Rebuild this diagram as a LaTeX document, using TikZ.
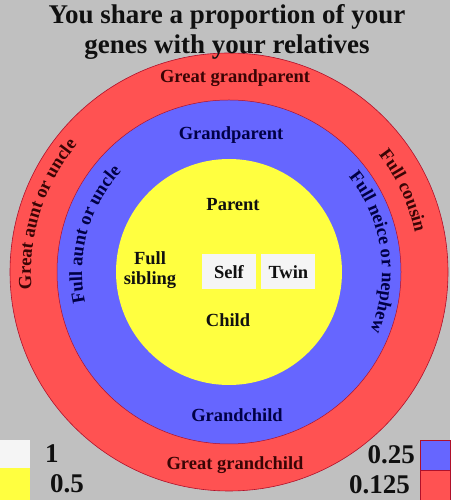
\documentclass[tikz,border=0pt]{standalone}
\usepackage{fontspec}
\setmainfont{Liberation Serif}
\usepackage{tikz}
\usetikzlibrary{positioning,decorations.text}
\definecolor{fond}{HTML}{C0C0C0}
\definecolor{rouge}{HTML}{FF5252}
\definecolor{bleu}{HTML}{6666FF}
\definecolor{jaune}{HTML}{FFFF40}
\definecolor{blanc}{HTML}{F5F5F5}
\definecolor{bord}{HTML}{B0102A}
\definecolor{brun}{HTML}{3A0505}
\definecolor{marine}{HTML}{000045}
\definecolor{noir}{HTML}{101010}
\newcommand\policeanneau{\fontsize{18.5}{20}\selectfont\bfseries}
\tikzset{
  anneau/.style={circle,inner sep=0pt,outer sep=0pt},
  etiq/.style={font=\policeanneau,inner sep=0pt,align=center},
  soibox/.style={etiq,fill=blanc,minimum width=54pt,minimum height=35pt},
  carre/.style={inner sep=0pt,outer sep=0pt,minimum width=30pt,minimum height=30pt},
  chiffre/.style={font=\fontsize{27}{28}\selectfont\bfseries,inner sep=0pt,text=noir},
  courbe/.style={decorate,decoration={text along path,text align=center,text={#1}}},
}

\begin{document}
\begin{tikzpicture}[x=1pt,y=1pt]
  \fill[fond] (0,0) rectangle (450,500);
  \useasboundingbox (0,0) rectangle (450,500);
  % les anneaux
  \coordinate (c) at (229,228);
  \node[anneau,fill=rouge,draw=bord,line width=0.6pt,minimum size=438pt] (gg) at (c) {};
  \node[anneau,fill=bleu,draw=bord,line width=0.5pt,minimum size=344pt] (g) at (c) {};
  \node[anneau,fill=jaune,minimum size=226pt] (p) at (c) {};
  % titre
  \node[etiq,font=\fontsize{27}{30}\selectfont\bfseries,text=noir] (titre) at (227,468) {You share a proportion of your\\genes with your relatives};
  % etiquettes
  \node[etiq,text=brun,anchor=base] (arriere) at (235,417) {Great grandparent};
  \node[etiq,text=marine,anchor=base] (grand) at (231,360) {Grandparent};
  \node[etiq,text=noir] (parent) at (233,295) {Parent};
  \node[etiq,text=noir] (fratrie) at (150,230) {Full\\sibling};
  \node[soibox,text=noir] (soi) at (c) {Self};
  \node[soibox,text=noir,right=5pt of soi] (jumeau) {Twin};
  \node[etiq,text=noir] (enfant) at (228,180) {Child};
  \node[etiq,text=marine] (petit) at (237,85) {Grandchild};
  \node[etiq,text=brun,anchor=base] (arrpetit) at (235,30) {Great grandchild};
  % textes courbes
  \path[courbe={|\policeanneau\color{brun}|Great aunt or uncle}] ([shift={(200:198)}]c) arc[start angle=200,end angle=125,radius=198];
  \path[courbe={|\policeanneau\color{marine}|Full aunt or uncle}] ([shift={(205:147)}]c) arc[start angle=205,end angle=124,radius=147];
  \path[courbe={|\policeanneau\color{brun}|Full cousin}] ([shift={(60:190)}]c) arc[start angle=60,end angle=-10,radius=190];
  \path[courbe={|\policeanneau\color{marine}|Full neice or nephew}] ([shift={(50:153)}]c) arc[start angle=50,end angle=-34,radius=153];
  % legende
  \node[carre,fill=blanc,anchor=south west,minimum height=28pt] (k1) at (0,32) {};
  \node[carre,fill=jaune,below=0pt of k1,minimum height=32pt] (k2) {};
  \node[chiffre,right=15pt of k1] (v1) {1};
  \node[chiffre,right=20pt of k2] (v2) {0.5};
  \node[carre,fill=bleu,draw=bord,anchor=north east] (k3) at (450,60) {};
  \node[carre,fill=rouge,draw=bord,below=0pt of k3] (k4) {};
  \node[chiffre,left=5pt of k3] (v3) {0.25};
  \node[chiffre,left=10pt of k4] (v4) {0.125};
\end{tikzpicture}
\end{document}
